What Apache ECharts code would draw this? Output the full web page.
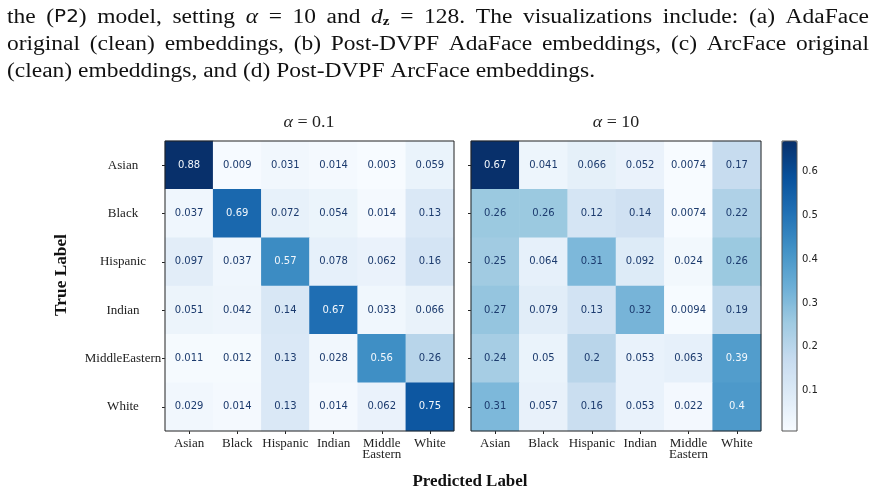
<!DOCTYPE html>
<html>
<head>
<meta charset="utf-8">
<script src="https://cdn.jsdelivr.net/npm/echarts@6/dist/echarts.min.js"></script>
<style>
  html, body { margin: 0; padding: 0; background: #fff; }
  #main { width: 876px; height: 494px; }
</style>
</head>
<body>
<div id="main"></div>
<script>
// classes on both axes
var rowLabels = ['Asian', 'Black', 'Hispanic', 'Indian', 'MiddleEastern', 'White'];
var colLabels = ['Asian', 'Black', 'Hispanic', 'Indian', 'Middle\nEastern', 'White'];

// confusion matrix, alpha = 0.1 (rows = true label)
var cmLow = [
    [0.88, 0.009, 0.031, 0.014, 0.003, 0.059],
    [0.037, 0.69, 0.072, 0.054, 0.014, 0.13],
    [0.097, 0.037, 0.57, 0.078, 0.062, 0.16],
    [0.051, 0.042, 0.14, 0.67, 0.033, 0.066],
    [0.011, 0.012, 0.13, 0.028, 0.56, 0.26],
    [0.029, 0.014, 0.13, 0.014, 0.062, 0.75]
];

// confusion matrix, alpha = 10
var cmHigh = [
    [0.67, 0.041, 0.066, 0.052, 0.0074, 0.17],
    [0.26, 0.26, 0.12, 0.14, 0.0074, 0.22],
    [0.25, 0.064, 0.31, 0.092, 0.024, 0.26],
    [0.27, 0.079, 0.13, 0.32, 0.0094, 0.19],
    [0.24, 0.05, 0.2, 0.053, 0.063, 0.39],
    [0.31, 0.057, 0.16, 0.053, 0.022, 0.4]
];

// colorbar tick labels
var cbarTicks = [0.1, 0.2, 0.3, 0.4, 0.5, 0.6];

var blues = ['#f7fbff', '#deebf7', '#c6dbef', '#9ecae1', '#6baed6', '#4292c6', '#2171b5', '#08519c', '#08306b'];
var SERIF = '"Liberation Serif", "Times New Roman", serif';
var SANS = '"DejaVu Sans", sans-serif';

function flat(m) {
    var all = [];
    m.forEach(function (r) { all = all.concat(r); });
    return all;
}

// heatmap data [col, row, value], text colour like matplotlib (light text on dark cells)
function buildData(m) {
    var all = flat(m);
    var lo = Math.min.apply(null, all), hi = Math.max.apply(null, all);
    var thr = (lo + hi) / 2;
    var out = [];
    for (var r = 0; r < m.length; r++) {
        for (var c = 0; c < m[r].length; c++) {
            out.push({
                value: [c, r, m[r][c]],
                label: {color: m[r][c] > thr ? '#f2f7fc' : '#1c3b6e'}
            });
        }
    }
    return {data: out, min: lo, max: hi};
}

var low = buildData(cmLow);
var high = buildData(cmHigh);

var myChart = echarts.init(document.getElementById('main'), null, {renderer: 'canvas'});

function catX(idx) {
    return {
        type: 'category', gridIndex: idx, data: colLabels,
        axisLine: {show: false},
        axisTick: {show: true, alignWithLabel: true, length: 3, lineStyle: {color: '#222'}},
        axisLabel: {interval: 0, fontFamily: SERIF, fontSize: 13, color: '#222', margin: 7, lineHeight: 11},
        splitLine: {show: false}
    };
}

function catY(idx, showLabel) {
    return {
        type: 'category', gridIndex: idx, data: rowLabels, inverse: true,
        axisLine: {show: false},
        axisTick: {show: true, alignWithLabel: true, length: 3, lineStyle: {color: '#222'}},
        axisLabel: {show: showLabel, interval: 0, fontFamily: SERIF, fontSize: 13, color: '#222', margin: 42, align: 'center'},
        splitLine: {show: false}
    };
}

function cellSeries(idx, d) {
    return {
        type: 'heatmap', xAxisIndex: idx, yAxisIndex: idx, data: d.data,
        label: {
            show: true, fontFamily: SANS, fontSize: 10,
            formatter: function (p) { return String(p.value[2]); }
        },
        itemStyle: {borderWidth: 0},
        emphasis: {disabled: true}
    };
}

// paragraph above the figure (first two lines justified)
var paraLines = [
    {y: 18, justify: true, tokens: [
        [['the']], [['(', 'n'], ['P2', 's'], [')', 'n']], [['model,']], [['setting']], [['α', 'i']], [['=']], [['10']],
        [['and']], [['d', 'i'], ['z', 'sub']], [['=']], [['128.']], [['The']], [['visualizations']], [['include:']],
        [['(a)']], [['AdaFace']]
    ]},
    {y: 45, justify: true, tokens: [
        [['original']], [['(clean)']], [['embeddings,']], [['(b)']], [['Post-DVPF']], [['AdaFace']], [['embeddings,']],
        [['(c)']], [['ArcFace']], [['original']]
    ]},
    {y: 72, justify: false, tokens: [
        [['(clean)']], [['embeddings,']], [['and']], [['(d)']], [['Post-DVPF']], [['ArcFace']], [['embeddings.']]
    ]}
];
var PARA_SIZE = 20, PARA_LEFT = 7, PARA_RIGHT = 869, LAST_RIGHT = 595;
var fontOf = {
    n: {fontFamily: SERIF, fontSize: PARA_SIZE, fontStyle: 'normal', fontWeight: 'normal', dy: 0},
    s: {fontFamily: SANS, fontSize: PARA_SIZE - 3, fontStyle: 'normal', fontWeight: 'normal', dy: 0},
    i: {fontFamily: SERIF, fontSize: PARA_SIZE, fontStyle: 'italic', fontWeight: 'normal', dy: 0},
    sub: {fontFamily: SERIF, fontSize: 13, fontStyle: 'normal', fontWeight: 'bold', dy: 4}
};
var ctx = document.createElement('canvas').getContext('2d');
function measure(txt, f) {
    ctx.font = f.fontStyle + ' ' + f.fontWeight + ' ' + f.fontSize + 'px ' + f.fontFamily;
    return ctx.measureText(txt).width;
}
function tokenWidths(line) {
    return line.tokens.map(function (tok) {
        return tok.reduce(function (s, part) { return s + measure(part[0], fontOf[part[1] || 'n']); }, 0);
    });
}
function sum(a) { return a.reduce(function (x, y) { return x + y; }, 0); }

// Computer Modern is wider than Times: stretch horizontally so the last line ends where it should
var spaceW = measure(' ', fontOf.n);
var lastLine = paraLines[2];
var paraScale = (LAST_RIGHT - PARA_LEFT) / (sum(tokenWidths(lastLine)) + spaceW * (lastLine.tokens.length - 1));

var graphics = [];
paraLines.forEach(function (line) {
    var widths = tokenWidths(line).map(function (w) { return w * paraScale; });
    var gap = line.justify ? (PARA_RIGHT - PARA_LEFT - sum(widths)) / (line.tokens.length - 1) : spaceW * paraScale;
    var x = PARA_LEFT;
    line.tokens.forEach(function (tok) {
        tok.forEach(function (part) {
            var f = fontOf[part[1] || 'n'];
            graphics.push({
                type: 'text', x: x, y: line.y + f.dy, scaleX: paraScale,
                style: {
                    text: part[0], fill: '#111', fontFamily: f.fontFamily, fontSize: f.fontSize,
                    fontStyle: f.fontStyle, fontWeight: f.fontWeight, textVerticalAlign: 'middle'
                }
            });
            x += measure(part[0], f) * paraScale;
        });
        x += gap;
    });
});

// panel titles and axis titles
function titleText(x, y, txt) {
    return {type: 'text', x: x, y: y, scaleX: 1.12, style: {
        text: txt, textAlign: 'center', textVerticalAlign: 'middle', fill: '#222',
        fontFamily: SERIF, fontSize: 16, rich: {i: {fontFamily: SERIF, fontStyle: 'italic', fontSize: 16}}
    }};
}
graphics.push(
    titleText(309, 123, '{i|α} = 0.1'),
    titleText(616, 123, '{i|α} = 10'),
    {type: 'text', x: 62, y: 275, rotation: Math.PI / 2, scaleX: 1.08, style: {
        text: 'True Label', textAlign: 'center', textVerticalAlign: 'middle', fill: '#111',
        fontFamily: SERIF, fontSize: 16, fontWeight: 'bold'
    }},
    {type: 'text', x: 470, y: 482, scaleX: 1.06, style: {
        text: 'Predicted Label', textAlign: 'center', textVerticalAlign: 'middle', fill: '#111',
        fontFamily: SERIF, fontSize: 16, fontWeight: 'bold'
    }}
);

var option = {
    backgroundColor: '#fff',
    animation: false,
    grid: [
        {left: 165, top: 141, width: 289, height: 290, show: true, borderColor: '#222', borderWidth: 1, backgroundColor: 'transparent', z: 10},
        {left: 471, top: 141, width: 290, height: 290, show: true, borderColor: '#222', borderWidth: 1, backgroundColor: 'transparent', z: 10},
        {left: 782, top: 141, width: 15, height: 290, show: true, borderColor: '#555', borderWidth: 1, backgroundColor: 'transparent', z: 10}
    ],
    xAxis: [
        catX(0),
        catX(1),
        {type: 'value', gridIndex: 2, show: false}
    ],
    yAxis: [
        catY(0, true),
        catY(1, false),
        {
            type: 'value', gridIndex: 2, position: 'right', min: high.min, max: high.max,
            axisLine: {show: false},
            axisTick: {show: true, length: 3, customValues: cbarTicks, lineStyle: {color: '#222'}},
            axisLabel: {
                customValues: cbarTicks, fontFamily: SANS, fontSize: 10, color: '#222', margin: 5,
                formatter: function (v) { return v.toFixed(1); }
            },
            splitLine: {show: false}
        }
    ],
    visualMap: [
        {type: 'continuous', show: false, seriesIndex: 0, min: low.min, max: low.max, inRange: {color: blues}},
        {
            type: 'continuous', show: true, seriesIndex: 1, min: high.min, max: high.max,
            inRange: {color: blues}, calculable: false, left: 782, top: 141, padding: 0,
            itemWidth: 15, itemHeight: 290, text: null, showLabel: false, hoverLink: false
        }
    ],
    series: [cellSeries(0, low), cellSeries(1, high)],
    graphic: graphics
};

myChart.setOption(option);
</script>
</body>
</html>
